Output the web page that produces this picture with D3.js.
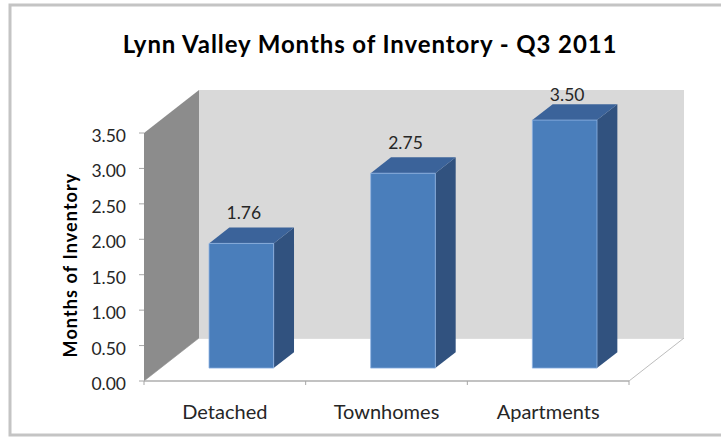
<!DOCTYPE html>
<html>
<head>
<meta charset="utf-8">
<script src="https://cdn.jsdelivr.net/npm/d3@7"></script>
<style>
  body { margin: 0; background: #fff; }
  text { font-family: Lato, "Open Sans", sans-serif; }
</style>
</head>
<body>
<div id="wrapper"></div>
<script>
// data
const categories = ["Detached", "Townhomes", "Apartments"];
const values = [1.76, 2.75, 3.50];
const yTicks = [0, 0.5, 1, 1.5, 2, 2.5, 3, 3.5];

function drawChart() {
  const width = 721, height = 437;

  const svg = d3.select("#wrapper").append("svg")
    .attr("width", width)
    .attr("height", height);

  // outer chart border
  svg.append("rect")
    .attr("x", 10).attr("y", 5)
    .attr("width", 730).attr("height", 430)
    .attr("fill", "#fff")
    .attr("stroke", "#c4c4c4")
    .attr("stroke-width", 3);

  // scales (front plane)
  const xScale = d3.scaleBand().domain(categories).range([144, 629]);
  const yScale = d3.scaleLinear().domain([0, 3.5]).range([381, 133]);
  // depth offset at full depth
  const depth = { dx: 55, dy: -43 };
  const proj = (x, v, z) => [x + z * depth.dx, yScale(v) + z * depth.dy];
  const poly = pts => "M" + pts.map(p => p.join(",")).join("L") + "Z";

  const x0 = xScale.range()[0], x1 = xScale.range()[1];
  const yMax = yScale.domain()[1];

  // floor
  svg.append("path")
    .attr("d", poly([proj(x0, 0, 0), proj(x0, 0, 1), proj(x1, 0, 1), proj(x1, 0, 0)]))
    .attr("fill", "#fff")
    .attr("stroke", "#bdbdbd");

  // back wall
  svg.append("path")
    .attr("d", poly([proj(x0, 0, 1), proj(x0, yMax, 1), proj(x1, yMax, 1), proj(x1, 0, 1)]))
    .attr("fill", "#d9d9d9");

  // side wall
  svg.append("path")
    .attr("d", poly([proj(x0, 0, 0), proj(x0, yMax, 0), proj(x0, yMax, 1), proj(x0, 0, 1)]))
    .attr("fill", "#8c8c8c");

  // front axis line
  svg.append("line")
    .attr("x1", x0).attr("x2", x1)
    .attr("y1", yScale(0)).attr("y2", yScale(0))
    .attr("stroke", "#a6a6a6");

  // x ticks at band edges
  const xEdges = categories.map(c => xScale(c)).concat([x1]);
  svg.selectAll(".xtick").data(xEdges).enter().append("line")
    .attr("x1", d => d).attr("x2", d => d)
    .attr("y1", yScale(0)).attr("y2", yScale(0) + 4)
    .attr("stroke", "#a6a6a6");

  // y ticks + labels
  svg.selectAll(".ytick").data(yTicks).enter().append("line")
    .attr("x1", x0 - 5).attr("x2", x0)
    .attr("y1", d => yScale(d)).attr("y2", d => yScale(d))
    .attr("stroke", "#a6a6a6");

  svg.selectAll(".ylabel").data(yTicks).enter().append("text")
    .attr("x", 126)
    .attr("y", d => yScale(d) + 9)
    .attr("text-anchor", "end")
    .attr("font-size", 17.5)
    .attr("fill", "#262626")
    .text(d => d3.format(".2f")(d));

  // bars
  const barW = xScale.bandwidth() * 0.4;
  const zF = 0.3, zB = 0.67;
  const bars = svg.selectAll(".bar").data(categories.map((c, i) => ({ c, v: values[i] })))
    .enter().append("g");

  bars.each(function (d) {
    const g = d3.select(this);
    const l = xScale(d.c) + (xScale.bandwidth() - barW) / 2;
    const r = l + barW;
    // right side
    g.append("path")
      .attr("d", poly([proj(r, 0, zF), proj(r, d.v, zF), proj(r, d.v, zB), proj(r, 0, zB)]))
      .attr("fill", "#31527f");
    // top
    g.append("path")
      .attr("d", poly([proj(l, d.v, zF), proj(l, d.v, zB), proj(r, d.v, zB), proj(r, d.v, zF)]))
      .attr("fill", "#3b639a");
    // front
    g.append("path")
      .attr("d", poly([proj(l, 0, zF), proj(l, d.v, zF), proj(r, d.v, zF), proj(r, 0, zF)]))
      .attr("fill", "#4a7ebb")
      .attr("stroke", "#8fb4e3")
      .attr("stroke-width", 0.8);

    // value label
    const top = proj((l + r) / 2, d.v, zB);
    g.append("text")
      .attr("x", (l + r) / 2 + 19)
      .attr("y", Math.max(top[1] - 8, proj(x0, yMax, 1)[1] + 11))
      .attr("text-anchor", "middle")
      .attr("font-size", 17.5)
      .attr("fill", "#262626")
      .text(d3.format(".2f")(d.v));
  });

  // category labels
  svg.selectAll(".xlabel").data(categories).enter().append("text")
    .attr("x", d => xScale(d) + xScale.bandwidth() / 2)
    .attr("y", 419)
    .attr("text-anchor", "middle")
    .attr("font-size", 20)
    .attr("fill", "#262626")
    .text(d => d);

  // y axis title
  svg.append("text")
    .attr("transform", "translate(77,265) rotate(-90)")
    .attr("text-anchor", "middle")
    .attr("font-size", 18)
    .attr("letter-spacing", 1.1)
    .attr("font-weight", "bold")
    .attr("fill", "#000")
    .text("Months of Inventory");

  // title
  svg.append("text")
    .attr("x", 370)
    .attr("y", 53)
    .attr("text-anchor", "middle")
    .attr("font-size", 24)
    .attr("letter-spacing", 0.9)
    .attr("font-weight", "bold")
    .attr("fill", "#000")
    .text("Lynn Valley Months of Inventory - Q3 2011");
}
drawChart();
</script>
</body>
</html>
